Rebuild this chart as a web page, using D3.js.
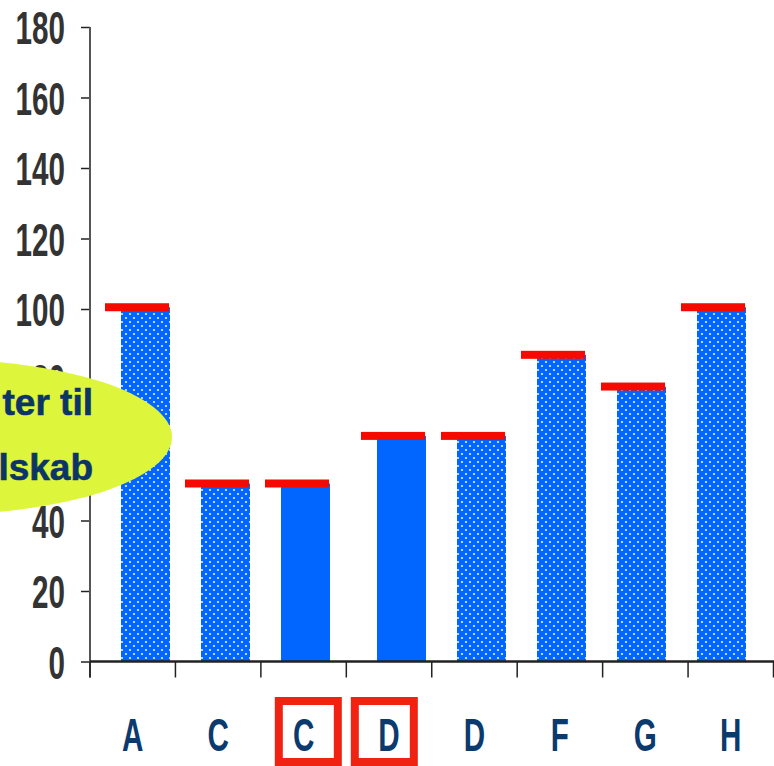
<!DOCTYPE html>
<html>
<head>
<meta charset="utf-8">
<script src="https://cdn.jsdelivr.net/npm/d3@7"></script>
<style>
  html, body { margin: 0; padding: 0; background: #ffffff; }
  svg { display: block; }
</style>
</head>
<body>
<div id="chart"></div>
<script>
// Chart data
const categories = ["A", "C", "C", "D", "D", "F", "G", "H"];
const values = [100.5, 50.5, 50.5, 64, 64, 87, 78, 100.5];
const markers = [100.5, 50.5, 50.5, 64, 64, 87, 78, 100.5];
const highlighted = [false, false, true, true, false, false, false, false];
const yTicks = [0, 20, 40, 60, 80, 100, 120, 140, 160, 180];
const calloutLines = ["ter til", "lskab"];

const W = 774, H = 766;
const svg = d3.select("#chart").append("svg")
  .attr("width", W).attr("height", H);

const font = "'Liberation Sans', Arial, Helvetica, sans-serif";
const squeeze = 0.63;

// Scales
const y = d3.scaleLinear().domain([0, 180]).range([661.5, 27]);
const x = d3.scaleBand().domain(d3.range(categories.length)).range([90, 773.5]);
// bar slots: regular step, with a small extra gap after the third bar
const slot = d3.scaleLinear().domain([0, 1]).range([121, 201]);
const slotOf = i => i + (i >= 3 ? 0.2 : 0);
const barW = 49;

// Dotted fill
const defs = svg.append("defs");
const pat = defs.append("pattern").attr("id", "dots")
  .attr("patternUnits", "userSpaceOnUse").attr("width", 8).attr("height", 8);
pat.append("rect").attr("width", 8).attr("height", 8).attr("fill", "#0066ff");
pat.selectAll("circle").data([[2, 2], [6, 6]]).join("circle")
  .attr("cx", d => d[0]).attr("cy", d => d[1]).attr("r", 1.1)
  .attr("fill", "#e4eeff");

// Y axis ticks and labels
const yAxis = d3.axisLeft(y).tickValues(yTicks).tickSize(9).tickSizeOuter(0);
const gy = svg.append("g").attr("transform", "translate(90,0)").call(yAxis);
gy.select(".domain").remove();
gy.selectAll(".tick line").attr("stroke", "#222").attr("stroke-width", 1.5);
gy.selectAll(".tick text")
  .attr("x", 0).attr("dy", "0.36em")
  .attr("transform", `translate(-25,0) scale(${squeeze},1)`)
  .attr("text-anchor", "end")
  .style("font-family", font).style("font-weight", "bold")
  .style("font-size", "47px").attr("fill", "#333333");

// Bars
const bars = svg.append("g");
bars.selectAll("rect").data(values).join("rect")
  .attr("x", (d, i) => slot(slotOf(i)))
  .attr("width", barW)
  .attr("y", d => y(d))
  .attr("height", d => y(0) - y(d))
  .attr("fill", (d, i) => highlighted[i] ? "#0066ff" : "url(#dots)");

// Red value markers
svg.append("g").selectAll("rect").data(markers).join("rect")
  .attr("x", (d, i) => slot(slotOf(i)) - 16)
  .attr("width", 64)
  .attr("y", d => y(d) - 4)
  .attr("height", 8)
  .attr("fill", "#f50a00");

// Axis lines
svg.append("line")
  .attr("x1", 90).attr("x2", 90).attr("y1", y(180)).attr("y2", y(0) + 16)
  .attr("stroke", "#555").attr("stroke-width", 2);
svg.append("line")
  .attr("x1", 90).attr("x2", W).attr("y1", y(0)).attr("y2", y(0))
  .attr("stroke", "#222").attr("stroke-width", 2.5);

// Category boundary ticks
const bounds = d3.range(categories.length + 1).map(i =>
  i < categories.length ? x(i) : x.range()[1]);
svg.append("g").selectAll("line").data(bounds).join("line")
  .attr("x1", d => d).attr("x2", d => d)
  .attr("y1", y(0)).attr("y2", y(0) + 16)
  .attr("stroke", "#222").attr("stroke-width", 1.5);

// Category labels
svg.append("g").selectAll("text").data(categories).join("text")
  .attr("transform", (d, i) =>
    `translate(${x(i) + x.bandwidth() / 2},751) scale(${squeeze},1)`)
  .attr("text-anchor", "middle")
  .style("font-family", font).style("font-weight", "bold")
  .style("font-size", "47px").attr("fill", "#0b3a6e")
  .text(d => d);

// Frames around the highlighted labels, set as a pair about their shared boundary
const hi = d3.range(categories.length).filter(i => highlighted[i]);
const mid = x(hi[0]) + x.bandwidth();
const boxW = 67, boxGap = 9, sw = 8;
svg.append("g").selectAll("rect").data(hi).join("rect")
  .attr("x", (d, k) => (k === 0 ? mid - boxGap / 2 - boxW : mid + boxGap / 2) + sw / 2)
  .attr("y", 697 + sw / 2)
  .attr("width", boxW - sw)
  .attr("height", 69 - sw)
  .attr("fill", "none")
  .attr("stroke", "#f02312")
  .attr("stroke-width", sw);

// Callout ellipse
svg.append("ellipse")
  .attr("cx", -68).attr("cy", 437).attr("rx", 240).attr("ry", 78)
  .attr("fill", "#ddf53a");
svg.append("g").selectAll("text").data(calloutLines).join("text")
  .attr("x", 93)
  .attr("y", (d, i) => 415 + i * 65)
  .attr("text-anchor", "end")
  .style("font-family", font).style("font-weight", "bold")
  .style("font-size", "37px").attr("fill", "#0b3566")
  .attr("stroke", "#0b3566").attr("stroke-width", 0.6)
  .text(d => d);
</script>
</body>
</html>
